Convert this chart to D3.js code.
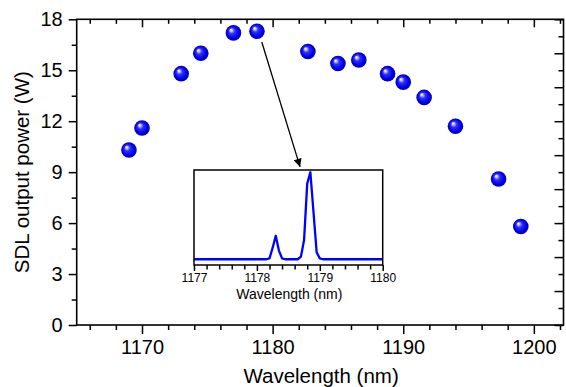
<!DOCTYPE html>
<html><head><meta charset="utf-8">
<script src="https://cdn.jsdelivr.net/npm/d3@7"></script>
<style>
body{margin:0;background:#fff}
svg{display:block}
text{font-family:Arial,"Liberation Sans",sans-serif;fill:#000}
</style>
</head><body>
<svg id="c" width="566" height="387"></svg>
<script>
// ---- data ----
const wavelength = [1169, 1170, 1173, 1174.5, 1177, 1178.8, 1182.7, 1185, 1186.6, 1188.8, 1190, 1191.6, 1194, 1197.3, 1199];
const power      = [10.3, 11.6, 14.8, 16.0, 17.2, 17.3, 16.1, 15.4, 15.6, 14.8, 14.3, 13.4, 11.7, 8.6, 5.8];
const xMajorTicks = [1170, 1180, 1190, 1200];
const yMajorTicks = [0, 3, 6, 9, 12, 15, 18];
const spectrumWl  = [1177.0, 1178.15, 1178.2, 1178.25, 1178.3, 1178.35, 1178.4, 1178.45, 1178.65, 1178.7, 1178.75, 1178.8, 1178.85, 1178.9, 1178.95, 1179.0, 1179.05, 1180.0];
const spectrumInt = [0, 0, 0.01, 0.13, 0.27, 0.1, 0.01, 0, 0, 0.03, 0.22, 0.87, 1.0, 0.54, 0.08, 0.01, 0, 0];
const insetTicks  = [1177, 1178, 1179, 1180];
const arrowFrom = [1179.17, 16.66];
const arrowTo   = [1182.1, 9.31];
const xTitle = "Wavelength (nm)";
const yTitle = "SDL output power (W)";
const insetTitle = "Wavelength (nm)";

// ---- layout ----
const svg = d3.select("#c");
const L = 76.7, R = 563.5, T = 19.3, B = 325;
const x = d3.scaleLinear().domain([1165, 1202.27]).range([L, R]);
const y = d3.scaleLinear().domain([0, 18]).range([B, T]);

const defs = svg.append("defs");
const grad = defs.append("radialGradient").attr("id", "ball")
  .attr("cx", 0.5).attr("cy", 0.5).attr("r", 0.5).attr("fx", 0.33).attr("fy", 0.3);
[[0, "#ffffff"], [0.12, "#d8d8ff"], [0.38, "#3030ff"], [0.75, "#0000f0"], [1, "#0000a8"]]
  .forEach(([o, c]) => grad.append("stop").attr("offset", o).attr("stop-color", c));
defs.append("marker").attr("id", "arr").attr("viewBox", "0 0 10 10")
  .attr("refX", 10).attr("refY", 5).attr("markerWidth", 11).attr("markerHeight", 8)
  .attr("markerUnits", "userSpaceOnUse").attr("orient", "auto")
  .append("path").attr("d", "M0,0 L10,5 L0,10 Z").attr("fill", "#000");

function styleAxis(g, fs) {
  g.select(".domain").remove();
  g.selectAll(".tick line").attr("stroke", "#000").attr("stroke-width", 1.5);
  g.selectAll("text").style("font-size", fs + "px").attr("fill", "#000");
}
const range = (a, b, s) => d3.range(a, b + 1e-9, s).map(v => +v.toFixed(3));
const xMinor = range(1166, 1202, 2).filter(v => !xMajorTicks.includes(v));
const yMinor = range(1.5, 16.5, 3);
const rMajor = range(0, 18, 2), rMinor = range(1, 17, 2);

// bottom
svg.append("g").attr("transform", `translate(0,${B})`)
  .call(d3.axisBottom(x).tickValues(xMajorTicks).tickSize(9).tickPadding(6).tickFormat(d3.format("d")))
  .call(g => styleAxis(g, 20));
svg.append("g").attr("transform", `translate(0,${B})`)
  .call(d3.axisBottom(x).tickValues(xMinor).tickSize(5).tickFormat(""))
  .call(g => styleAxis(g, 20));
// top (inward)
svg.append("g").attr("transform", `translate(0,${T})`)
  .call(d3.axisTop(x).tickValues(xMajorTicks).tickSize(-8).tickFormat(""))
  .call(g => styleAxis(g, 20));
svg.append("g").attr("transform", `translate(0,${T})`)
  .call(d3.axisTop(x).tickValues(xMinor).tickSize(-4.5).tickFormat(""))
  .call(g => styleAxis(g, 20));
// left
svg.append("g").attr("transform", `translate(${L},0)`)
  .call(d3.axisLeft(y).tickValues(yMajorTicks).tickSize(8).tickPadding(6).tickFormat(d3.format("d")))
  .call(g => styleAxis(g, 20));
svg.append("g").attr("transform", `translate(${L},0)`)
  .call(d3.axisLeft(y).tickValues(yMinor).tickSize(5).tickFormat(""))
  .call(g => styleAxis(g, 20));
// right (inward)
svg.append("g").attr("transform", `translate(${R},0)`)
  .call(d3.axisRight(y).tickValues(rMajor).tickSize(-9).tickFormat(""))
  .call(g => styleAxis(g, 20));
svg.append("g").attr("transform", `translate(${R},0)`)
  .call(d3.axisRight(y).tickValues(rMinor).tickSize(-5).tickFormat(""))
  .call(g => styleAxis(g, 20));

svg.append("rect").attr("x", L).attr("y", T).attr("width", R - L).attr("height", B - T)
  .attr("fill", "none").attr("stroke", "#000").attr("stroke-width", 1.6);

// titles
svg.append("text").attr("x", (L + R) / 2 + 1).attr("y", 382.5).attr("text-anchor", "middle")
  .style("font-size", "20.5px").text(xTitle);
svg.append("text").attr("transform", `translate(28.5,${(T + B) / 2}) rotate(-90)`)
  .attr("text-anchor", "middle").style("font-size", "20.5px").text(yTitle);

// ---- inset ----
const iL = 194, iR = 382.7, iT = 170, iB = 265;
const xi = d3.scaleLinear().domain([1177, 1180]).range([iL, iR]);
const yi = d3.scaleLinear().domain([-0.066, 1.026]).range([iB, iT]);
svg.append("rect").attr("x", iL).attr("y", iT).attr("width", iR - iL).attr("height", iB - iT)
  .attr("fill", "#fff");
const iMinor = range(1177.2, 1179.8, 0.2).filter(v => !insetTicks.includes(v));
svg.append("g").attr("transform", `translate(0,${iB})`)
  .call(d3.axisBottom(xi).tickValues(insetTicks).tickSize(6).tickPadding(2).tickFormat(d3.format("d")))
  .call(g => styleAxis(g, 12));
svg.append("g").attr("transform", `translate(0,${iB})`)
  .call(d3.axisBottom(xi).tickValues(iMinor).tickSize(4.5).tickFormat(""))
  .call(g => styleAxis(g, 12));
svg.append("path").datum(spectrumWl.map((w, i) => [w, spectrumInt[i]]))
  .attr("d", d3.line().x(d => xi(d[0])).y(d => yi(d[1])))
  .attr("fill", "none").attr("stroke", "#0000ff").attr("stroke-width", 2.3)
  .attr("stroke-linejoin", "round");
svg.append("rect").attr("x", iL).attr("y", iT).attr("width", iR - iL).attr("height", iB - iT)
  .attr("fill", "none").attr("stroke", "#000").attr("stroke-width", 1.5);
svg.append("text").attr("x", (iL + iR) / 2 + 1).attr("y", 298.5).attr("text-anchor", "middle")
  .style("font-size", "14px").text(insetTitle);

// arrow
svg.append("line")
  .attr("x1", x(arrowFrom[0])).attr("y1", y(arrowFrom[1]))
  .attr("x2", x(arrowTo[0])).attr("y2", y(arrowTo[1]))
  .attr("stroke", "#000").attr("stroke-width", 1.3).attr("marker-end", "url(#arr)");

// points
svg.append("g").selectAll("circle").data(wavelength.map((w, i) => [w, power[i]]))
  .join("circle").attr("cx", d => x(d[0])).attr("cy", d => y(d[1])).attr("r", 7.8)
  .attr("fill", "url(#ball)");
</script>
</body></html>
